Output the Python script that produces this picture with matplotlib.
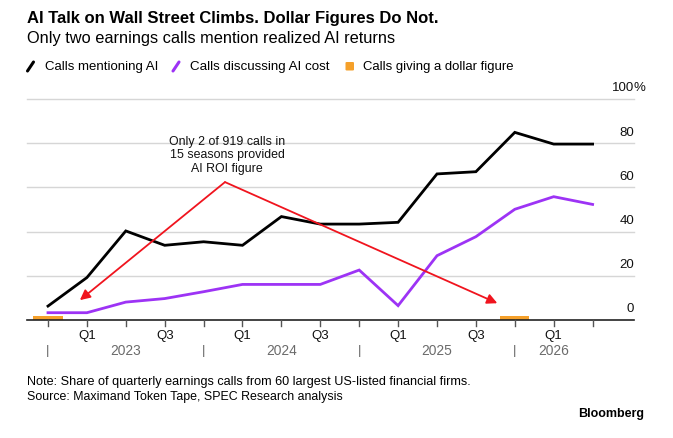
import matplotlib
matplotlib.use("Agg")
import matplotlib.pyplot as plt
from matplotlib.lines import Line2D
from matplotlib.patches import FancyBboxPatch
import numpy as np

# ---------------- data ----------------
quarters = ["Q4 2022", "Q1 2023", "Q2 2023", "Q3 2023", "Q4 2023",
            "Q1 2024", "Q2 2024", "Q3 2024", "Q4 2024",
            "Q1 2025", "Q2 2025", "Q3 2025", "Q4 2025",
            "Q1 2026", "Q2 2026"]
calls_ai = [6.3, 19.2, 40.3, 33.8, 35.4, 33.8, 46.8, 43.4, 43.4, 44.2,
            66.1, 67.1, 84.9, 79.6, 79.6]
calls_cost = [3.3, 3.3, 8.1, 9.7, 12.8, 16.1, 16.1, 16.1, 22.6, 6.5,
              29.1, 37.7, 50.1, 55.8, 52.3]
calls_dollar = [1.7, 0, 0, 0, 0, 0, 0, 0, 0, 0, 0, 0, 1.7, 0, 0]
y_ticks = [0, 20, 40, 60, 80, 100]
quarter_labels = ["", "Q1", "", "Q3", "", "Q1", "", "Q3", "", "Q1", "", "Q3", "", "Q1", ""]
year_labels = ["2023", "2024", "2025", "2026"]

BLACK = "#000000"
PURPLE = "#9d33f5"
ORANGE = "#f5a02a"
RED = "#f0141e"
GRID = "#d6d6d6"
GRAYTXT = "#6b6b6b"

plt.rcParams['font.family'] = ['Liberation Sans', 'DejaVu Sans']

W, H = 673, 438
fig = plt.figure(figsize=(W / 100, H / 100), dpi=100)
fig.patch.set_facecolor("white")


def fx(x):
    return x / W


def fy(y):
    return 1 - y / H


PX = 0.72  # points per pixel at dpi 100

x = np.arange(len(quarters))
step = 38.9
ax = fig.add_axes([fx(27), fy(320), (634 - 27) / W, (320 - 99) / H])
ax.set_xlim(-21 / step, (634 - 48) / step)
ax.set_ylim(0, 100)
for s in ax.spines.values():
    s.set_visible(False)
ax.set_xticks([])
ax.set_yticks([])
ax.patch.set_alpha(0)

for v in y_ticks[1:]:
    ax.axhline(v, color=GRID, lw=1.0, zorder=0, clip_on=False)
ax.axhline(0, color="#222222", lw=1.2, zorder=5, clip_on=False)

# y labels
for v in y_ticks:
    ax.annotate(str(v), xy=(1, v), xycoords=("axes fraction", "data"),
                xytext=(0, 10.5 * PX), textcoords="offset points",
                ha="right", va="center", fontsize=9.5, color="#111111")
    if v == 100:
        ax.annotate("%", xy=(1, v), xycoords=("axes fraction", "data"),
                    xytext=(0, 10.5 * PX), textcoords="offset points",
                    ha="left", va="center", fontsize=9.5, color="#111111")

# bars (dollar figure)
ax.bar(x, calls_dollar, width=0.75, color=ORANGE, linewidth=0, zorder=4)

# lines
ax.plot(x, calls_ai, color=BLACK, lw=2, zorder=6, solid_joinstyle="miter")
ax.plot(x, calls_cost, color=PURPLE, lw=2, zorder=6, solid_joinstyle="miter")

# x ticks & labels
for i in x:
    ax.plot([i, i], [0, -5.5 / 2.21], color="#555555", lw=1, clip_on=False, zorder=5)
for i, lab in zip(x, quarter_labels):
    if lab:
        ax.annotate(lab, xy=(i, 0), xycoords=("data", "axes fraction"),
                    xytext=(0, -15.5 * PX), textcoords="offset points",
                    ha="center", va="center", fontsize=9.5, color="#111111")

sep_idx = [i for i, q in enumerate(quarters) if q.startswith("Q4")]
bounds = sep_idx + [len(quarters) - 1]
year_texts = []
for k, yl in enumerate(year_labels):
    s = sep_idx[k]
    ax.annotate("|", xy=(s, 0), xycoords=("data", "axes fraction"),
                xytext=(0, -31 * PX), textcoords="offset points",
                ha="center", va="center", fontsize=9.5, color=GRAYTXT)
    e = bounds[k + 1]
    t = ax.annotate(yl, xy=((s + e) / 2, 0), xycoords=("data", "axes fraction"),
                    xytext=(0, -31 * PX), textcoords="offset points",
                    ha="center", va="center", fontsize=10, color=GRAYTXT)
    year_texts.append(t)

# annotation
ann_x, ann_y = 4.55, 62.4
ann = ax.text(4.6, 74.6, "Only 2 of 919 calls in\n15 seasons provided\nAI ROI figure",
              ha="center", va="center", fontsize=8.5, linespacing=1.18, color="#111111", zorder=7)
for tip in [(0.82, 9.0), (11.55, 7.6)]:
    ax.annotate("", xy=tip, xytext=(ann_x, ann_y),
                arrowprops=dict(arrowstyle="-|>", color=RED, lw=1.3,
                                mutation_scale=15, shrinkA=0, shrinkB=0),
                zorder=7)

# ---------------- header ----------------
title = fig.text(fx(27), fy(23.3), "AI Talk on Wall Street Climbs. Dollar Figures Do Not.",
                 fontsize=11, fontweight="bold", va="baseline", ha="left")
subtitle = fig.text(fx(27), fy(43.3), "Only two earnings calls mention realized AI returns",
                    fontsize=11, va="baseline", ha="left")

# legend
fig.add_artist(Line2D([fx(27.5), fx(33.5)], [fy(71), fy(62)], color=BLACK, lw=2.2,
                      solid_capstyle="round"))
l1 = fig.text(fx(45), fy(70), "Calls mentioning AI", fontsize=9, va="baseline")
fig.add_artist(Line2D([fx(173), fx(179)], [fy(71), fy(62)], color=PURPLE, lw=2.2,
                      solid_capstyle="round"))
l2 = fig.text(fx(190), fy(70), "Calls discussing AI cost", fontsize=9, va="baseline")
fig.add_artist(FancyBboxPatch((fx(345.5), fy(70.5)), 8.5 / W, 8.5 / H,
                              boxstyle="round,pad=0,rounding_size=0.002",
                              transform=fig.transFigure, color=ORANGE, linewidth=0))
l3 = fig.text(fx(363), fy(70), "Calls giving a dollar figure", fontsize=9, va="baseline")

# footer
note = fig.text(fx(27), fy(385), "Note: Share of quarterly earnings calls from 60 largest US-listed financial firms.",
                fontsize=8.5, va="baseline")
src = fig.text(fx(27), fy(400), "Source: Maximand Token Tape, SPEC Research analysis",
               fontsize=8.5, va="baseline")
bb = fig.text(fx(644), fy(417), "Bloomberg", fontsize=9.5, fontweight="bold",
              va="baseline", ha="right")

# fit text widths to the reference
fig.canvas.draw()
r = fig.canvas.get_renderer()


def fit(t, target):
    w = t.get_window_extent(r).width
    t.set_fontsize(t.get_fontsize() * target / w)


fit(title, 415)
fit(subtitle, 367)
fit(l1, 114)
fit(l2, 141)
fit(l3, 151)
fit(note, 438)
fit(src, 312)
fit(bb, 66)
fit(ann, 114)
for t in year_texts:
    fit(t, 31)

fig.savefig("out.png", dpi=100, facecolor="white")
